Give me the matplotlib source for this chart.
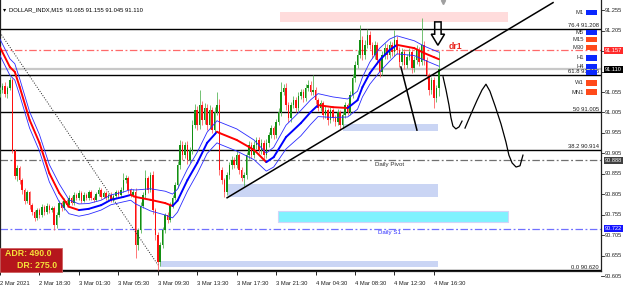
import matplotlib
matplotlib.use("Agg")
import matplotlib.pyplot as plt
import matplotlib.transforms as mtransforms
from matplotlib.patches import Rectangle, Polygon
from matplotlib.collections import LineCollection
import numpy as np

plt.rcParams['font.family'] = ['Liberation Sans', 'DejaVu Sans']

# ---------------- data ----------------
first_open = 91.050
closes = [
    91.060, 91.070, 91.050, 91.065, 91.085,
    90.910, 90.850, 90.870, 90.840, 90.815,
    90.790, 90.810, 90.780, 90.762, 90.748,
    90.767, 90.755, 90.775, 90.762, 90.778,
    90.767, 90.772, 90.730, 90.755, 90.785,
    90.772, 90.790, 90.780, 90.797, 90.785,
    90.804, 90.797, 90.808, 90.790, 90.804,
    90.797, 90.811, 90.797, 90.792, 90.806,
    90.816, 90.800, 90.808, 90.797, 90.804,
    90.792, 90.801, 90.811, 90.804, 90.816,
    90.840, 90.845, 90.816, 90.804, 90.811,
    90.682, 90.718, 90.778, 90.804, 90.845,
    90.816, 90.852, 90.767, 90.706, 90.640,
    90.682, 90.718, 90.755, 90.743, 90.780,
    90.797, 90.828, 90.877, 90.926, 90.901,
    90.926, 90.889, 90.914, 90.975, 91.011,
    90.975, 91.023, 90.987, 91.016, 90.975,
    91.011, 90.962, 91.006, 91.023, 90.865,
    90.840, 90.811, 90.852, 90.877, 90.889,
    90.877, 90.901, 90.865, 90.845, 90.852,
    90.901, 90.926, 90.901, 90.926, 90.938,
    90.914, 90.930, 90.901, 90.930, 90.950,
    90.967, 90.950, 90.982, 91.006, 91.055,
    91.065, 91.023, 90.992, 91.023, 91.035,
    91.016, 91.045, 91.055, 91.040, 91.065,
    91.072, 91.055, 91.060, 91.035, 91.016,
    91.028, 90.999, 91.011, 90.987, 91.011,
    90.992, 90.982, 91.006, 90.975, 90.999,
    91.023, 91.006, 91.048, 91.089, 91.121,
    91.145, 91.182, 91.145, 91.170, 91.194,
    91.170, 91.145, 91.170, 91.133, 91.104,
    91.145, 91.162, 91.145, 91.170, 91.152,
    91.182, 91.157, 91.128, 91.152, 91.121,
    91.140, 91.152, 91.113, 91.133, 91.157,
    91.128, 91.170, 91.133, 91.096, 91.060,
    91.084, 91.040, 91.065, 91.110]

# upper / lower wick extension beyond body (in 0.001 units)
hi_ext = [
    8, 6, 10, 5, 6, 4, 6, 8, 5, 6,
    5, 7, 4, 5, 6, 6, 5, 7, 4, 6,
    5, 6, 4, 8, 6, 5, 6, 4, 6, 5,
    6, 4, 7, 5, 6, 4, 6, 5, 4, 6,
    7, 4, 6, 5, 4, 6, 5, 6, 4, 7,
    17, 8, 5, 6, 7, 10, 6, 8, 6, 20,
    6, 8, 10, 6, 8, 6, 8, 6, 7, 6,
    6, 8, 10, 12, 10, 8, 10, 8, 12, 15,
    10, 37, 10, 12, 10, 12, 8, 12, 32, 15,
    8, 6, 8, 8, 10, 8, 10, 6, 6, 8,
    8, 10, 8, 10, 8, 8, 10, 8, 10, 8,
    8, 6, 8, 10, 24, 10, 12, 8, 8, 10,
    8, 10, 8, 8, 10, 12, 10, 36, 8, 6,
    8, 6, 10, 6, 8, 6, 6, 8, 6, 8,
    8, 6, 10, 10, 10, 12, 36, 10, 12, 15,
    10, 8, 10, 8, 8, 10, 12, 10, 10, 8,
    24, 10, 8, 10, 8, 8, 10, 8, 10, 12,
    8, 65, 10, 8, 6, 8, 8, 8, 45]
lo_ext = [
    6, 8, 6, 10, 6, 5, 8, 12, 10, 8,
    8, 6, 10, 6, 8, 5, 8, 6, 8, 5,
    6, 5, 12, 6, 5, 8, 5, 6, 5, 6,
    5, 6, 5, 6, 4, 6, 5, 5, 6, 4,
    5, 6, 4, 6, 5, 5, 6, 4, 6, 5,
    6, 6, 8, 5, 6, 32, 12, 8, 6, 8,
    8, 6, 10, 12, 20, 10, 8, 6, 8, 6,
    8, 6, 8, 10, 12, 8, 10, 8, 10, 8,
    12, 10, 12, 10, 12, 10, 8, 10, 8, 12,
    10, 11, 8, 8, 10, 8, 8, 10, 8, 19,
    8, 10, 8, 8, 10, 8, 10, 10, 8, 8,
    8, 10, 8, 8, 10, 8, 12, 10, 10, 8,
    10, 8, 8, 10, 6, 8, 8, 8, 10, 8,
    8, 10, 8, 12, 8, 8, 10, 8, 13, 8,
    8, 8, 6, 8, 10, 8, 8, 12, 10, 8,
    10, 8, 10, 10, 12, 8, 10, 10, 8, 10,
    8, 10, 12, 8, 10, 8, 8, 12, 8, 10,
    10, 8, 12, 10, 12, 10, 24, 10, 20]

# moving average (trend coloured) and band half width, read at bar positions
ma_bar = [0, 4, 6, 8, 12, 16, 20, 24, 28, 32, 36, 41, 45, 50, 53, 55, 61, 67, 70,
          72, 76, 80, 84, 88, 89, 96, 103, 108, 111, 116, 122, 126, 129, 135, 141,
          145, 147, 150, 154, 158, 161, 168, 172, 176, 178]
ma_val = [91.164, 91.116, 91.104, 91.067, 90.987, 90.931, 90.857, 90.809, 90.775,
          90.767, 90.770, 90.779, 90.792, 90.799, 90.804, 90.799, 90.792, 90.784,
          90.777, 90.790, 90.840, 90.882, 90.931, 90.958, 90.955, 90.938, 90.914,
          90.884, 90.896, 90.945, 90.979, 91.006, 91.023, 91.018, 91.016, 91.035,
          91.067, 91.101, 91.133, 91.157, 91.170, 91.162, 91.150, 91.140, 91.135]
band_half = [0.020, 0.020, 0.020, 0.020, 0.020, 0.020, 0.021, 0.022, 0.017,
             0.015, 0.013, 0.012, 0.012, 0.012, 0.013, 0.017, 0.027, 0.029,
             0.029, 0.028, 0.027, 0.026, 0.026, 0.027, 0.027, 0.027, 0.024,
             0.022, 0.024, 0.029, 0.031, 0.030, 0.028, 0.025, 0.022, 0.022,
             0.024, 0.027, 0.029, 0.027, 0.022, 0.018, 0.017, 0.017, 0.017]

# horizontal levels
fib_levels = [91.208, 91.096, 91.005, 90.914, 90.620]
fib_labels = ['76.4 91.208', '61.8 91.096', '50 91.005', '38.2 90.914', '0.0 90.620']
bid_price = 91.110
dr1_price = 91.157
pivot_price = 90.888
s1_price = 90.722

# zones (bar_from, bar_to, price_lo, price_hi)
zone_pink = (113.6, 206.0, 91.226, 91.250)
zones_blue = [(139.1, 177.6, 90.960, 90.977),
              (92.5, 177.6, 90.799, 90.831),
              (64.9, 177.6, 90.628, 90.643)]
zone_cyan = (112.8, 206.0, 90.738, 90.765)

# drawn objects
trend_x = [92.1, 224.3]
trend_y = [90.797, 91.273]
short_x = [162.6, 169.1]
short_y = [91.116, 90.962]
dotted_x = [0.0, 64.1]
dotted_y = [91.200, 90.633]
stroke1_x = [179.7, 180.9, 182.1, 182.9, 183.7, 184.9, 186.2, 187.4]
stroke1_y = [91.092, 91.060, 91.023, 90.992, 90.972, 90.965, 90.970, 90.984]
stroke2_x = [188.6, 191.0, 193.5, 195.5, 197.1, 198.7, 200.8, 203.2, 205.2, 206.4,
             207.7, 209.3, 210.9, 212.1]
stroke2_y = [90.967, 91.001, 91.035, 91.060, 91.074, 91.057, 91.021, 90.977, 90.933,
             90.901, 90.882, 90.872, 90.875, 90.901]
arrow_x = [176.3, 178.9, 178.9, 180.3, 177.6, 174.9, 176.3]
arrow_y = [91.226, 91.226, 91.196, 91.196, 91.169, 91.196, 91.196]

x_tick_bars = [0, 16, 32, 48, 64, 80, 96, 112, 128, 144, 160, 176]
x_tick_labels = ['2 Mar 2021', '2 Mar 18:30', '3 Mar 01:30', '3 Mar 05:30',
                 '3 Mar 09:30', '3 Mar 13:30', '3 Mar 17:30', '3 Mar 21:30',
                 '4 Mar 04:30', '4 Mar 08:30', '4 Mar 12:30', '4 Mar 16:30']
y_ticks = [91.255, 91.205, 91.155, 91.105, 91.055, 91.005, 90.955, 90.905,
           90.855, 90.805, 90.755, 90.705, 90.655, 90.605]
y_ticks_hidden = [91.155, 91.105]   # covered by the price boxes

tf_names = ['M1', 'M5', 'M15', 'M30', 'H1', 'H4', '', 'W1', 'MN1']
tf_prices = [91.250, 91.201, 91.184, 91.164, 91.138, 91.118, 91.103, 91.077, 91.055]
tf_colors = ['#0a28ff', '#0a28ff', '#ff4a1a', '#ff4a1a', '#0a28ff', '#0a28ff',
             '#0a28ff', '#ff4a1a', '#ff4a1a']

title = 'DOLLAR_INDX,M15  91.065 91.155 91.045 91.110'
adr_text = 'ADR: 490.0'
dr_text = 'DR: 275.0'

# ---------------- figure ----------------
W, H = 625, 290
fig = plt.figure(figsize=(W / 100, H / 100), dpi=100)
PX = 2.4656              # pixels per bar
ax_w_px = 601
ax = fig.add_axes([0, 19 / H, ax_w_px / W, 271 / H])
ax.set_xlim(0, ax_w_px / PX)
ax.set_ylim(90.6184, 91.2794)
ax.set_facecolor('white')
ax.spines['top'].set_visible(False)
for s in ['left', 'right', 'bottom']:
    ax.spines[s].set_color('#202020')
    ax.spines[s].set_linewidth(0.9)
ax.set_yticks([])

bt = mtransforms.blended_transform_factory(ax.transAxes, ax.transData)

# zones
def zone(z, color, zo=1, ec='none'):
    ax.add_patch(Rectangle((z[0], z[2]), z[1] - z[0], z[3] - z[2],
                           facecolor=color, edgecolor=ec, lw=0.8, zorder=zo))
zone(zone_pink, '#ffdcdc')
for z in zones_blue:
    zone(z, '#cad5f4')
zone(zone_cyan, '#7ff2fe', ec='#d0d4f8')

# horizontal lines
for lv in fib_levels:
    ax.axhline(lv, color='black', lw=1.0, zorder=2)
ax.axhline(bid_price, color='#c8c8c8', lw=1.6, zorder=1.5)
ax.axhline(dr1_price, color='#ff6a6a', lw=0.9, dashes=(6, 2, 1.5, 2), zorder=2)
ax.axhline(pivot_price, color='#707070', lw=0.9, dashes=(6, 2, 1.5, 2), zorder=2)
ax.axhline(s1_price, color='#7070ff', lw=0.9, dashes=(6, 2, 1.5, 2), zorder=2)

# candles
c = np.array(closes)
o = np.concatenate([[first_open], c[:-1]])
hi = np.maximum(o, c) + np.array(hi_ext) / 1000.0
lo = np.minimum(o, c) - np.array(lo_ext) / 1000.0
xs = np.arange(len(c))
bull = c >= o
col = np.where(bull, '#138f13', '#ff1010')
wcol = np.where(bull, '#5cb85c', '#ff6060')
ax.vlines(xs, lo, hi, colors=wcol, lw=0.6, zorder=3)
hgt = np.where(np.abs(c - o) < 0.0015, 0.0015, c - o)
ax.bar(xs, hgt, bottom=o, width=0.62, color=col, lw=0, zorder=4)

# moving average coloured by slope + bands
mb = np.array(ma_bar, dtype=float)
mv = np.array(ma_val)
bh = np.array(band_half)
segs = [[(mb[i], mv[i]), (mb[i + 1], mv[i + 1])] for i in range(len(mb) - 1)]
scol = ['#ff0000' if mv[i + 1] < mv[i] else '#0000ff' for i in range(len(mb) - 1)]
ax.add_collection(LineCollection(segs, colors=scol, lw=1.4, zorder=5,
                                 capstyle='round', joinstyle='round'))
ax.plot(mb, mv + bh, color='#2a2aff', lw=0.6, zorder=5)
ax.plot(mb, mv - bh, color='#2a2aff', lw=0.6, zorder=5)

# drawings
ax.plot(trend_x, trend_y, color='black', lw=1.1, zorder=6)
ax.plot(short_x, short_y, color='black', lw=1.1, zorder=6)
ax.plot(dotted_x, dotted_y, color='#202020', lw=0.7, ls=(0, (1, 1.6)), zorder=6)
ax.plot(stroke1_x, stroke1_y, color='black', lw=0.9, zorder=6)
ax.plot(stroke2_x, stroke2_y, color='black', lw=0.9, zorder=6)
ax.add_patch(Polygon(list(zip(arrow_x, arrow_y)), closed=True, fill=False,
                     edgecolor='black', lw=1.1, zorder=6))
ax.text(182.0, dr1_price + 0.008, 'dr1', color='#e8251e', fontsize=6.2,
        fontweight='bold', ha='left', va='center', zorder=7)
ax.plot([179.7], [91.274], marker='v', ms=3, color='#a0a0a0', zorder=7, clip_on=False)

# level labels
for lv, lab in zip(fib_levels, fib_labels):
    ax.text(599 / ax_w_px, lv + 0.002, lab, transform=bt, fontsize=4.2,
            ha='right', va='bottom', color='#202020', zorder=7)
ax.text(158.0, pivot_price - 0.004, 'Daily Pivot', fontsize=4.4, color='#303030',
        ha='center', va='top', zorder=7)
ax.text(158.0, s1_price - 0.004, 'Daily S1', fontsize=4.4, color='#3030ff',
        ha='center', va='top', zorder=7)

# timeframe indicator
for name, p, cl in zip(tf_names, tf_prices, tf_colors):
    if name:
        ax.text(584 / ax_w_px, p, name, transform=bt, fontsize=4.2, ha='right',
                va='center', color='#303030', zorder=8)
    ax.add_patch(Rectangle((586 / ax_w_px, p - 0.0062), 11 / ax_w_px, 0.0124,
                           transform=bt, facecolor=cl, edgecolor='none', zorder=8))

# title
ax.text(3 / ax_w_px, 91.255, '\u25BE', transform=bt, fontsize=4.5, ha='left',
        va='center', color='black', zorder=8)
ax.text(9 / ax_w_px, 91.255, title, transform=bt, fontsize=4.2, ha='left',
        va='center', color='black', zorder=8)

# ADR box
ax.add_patch(Rectangle((0.001, 90.617), 62 / PX, 0.058, facecolor='#b5161c',
                       edgecolor='#d06060', lw=0.6, zorder=9, clip_on=False))
ax.text(2.0, 90.660, adr_text, fontsize=6.3, fontweight='bold', color='#f5e23a',
        ha='left', va='center', zorder=10)
ax.text(23.0, 90.632, dr_text, fontsize=6.3, fontweight='bold', color='#f5e23a',
        ha='right', va='center', zorder=10)

# right price scale
for t in y_ticks:
    ax.plot([1.0, 1.0 + 2.5 / ax_w_px], [t, t], transform=bt, color='#202020',
            lw=0.6, clip_on=False)
    if t in y_ticks_hidden:
        continue
    ax.text(1.0 + 4 / ax_w_px, t, f'{t:.3f}', transform=bt, fontsize=4.1,
            ha='left', va='center', color='#202020', clip_on=False)
for p, fc, tc in [(dr1_price, '#ff2a2a', 'white'), (bid_price, '#000000', 'white'),
                  (pivot_price, '#404040', 'white'), (s1_price, '#1414ff', 'white')]:
    ax.text(1.0 + 4 / ax_w_px, p, f'{p:.3f}', transform=bt, fontsize=4.1,
            ha='left', va='center', color=tc, clip_on=False, zorder=10,
            bbox=dict(boxstyle='square,pad=0.2', facecolor=fc, edgecolor='none'))

# time axis
ax.set_xticks(x_tick_bars)
ax.set_xticklabels(x_tick_labels, fontsize=4.2, color='#202020')
for lb in ax.get_xticklabels():
    lb.set_ha('left')
ax.tick_params(axis='x', direction='out', length=3, width=0.6, pad=4)

fig.savefig('out.png', dpi=100)
